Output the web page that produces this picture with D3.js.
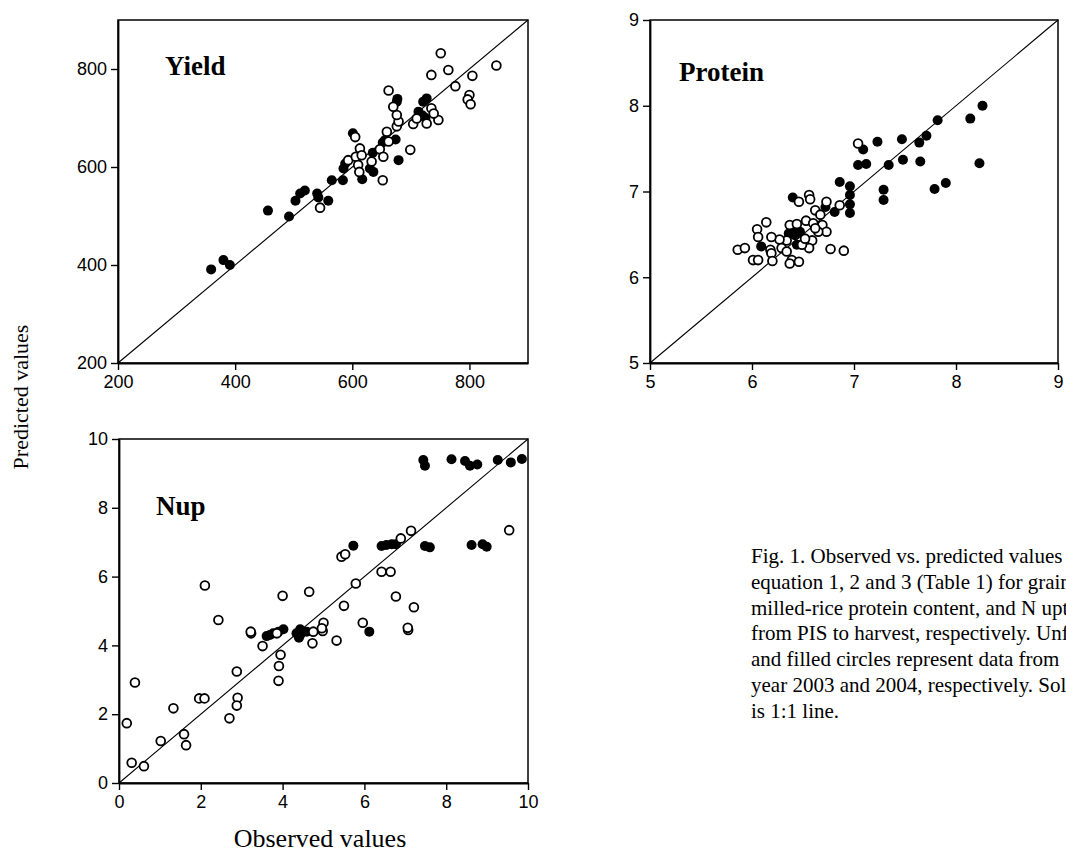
<!DOCTYPE html>
<html>
<head>
<meta charset="utf-8">
<script src="https://cdn.jsdelivr.net/npm/d3@7"></script>
<style>
body { margin: 0; background: #fff; }
svg { display: block; }
</style>
</head>
<body>
<div id="chart"></div>
<script>
// observed, predicted pairs
// open = 2003, filled = 2004
var yieldOpen = [[545,517],[652,573],[593,614],[606,621],[610,604],[613,638],[616,624],[612,590],[633,611],
  [647,636],[653,621],[662,652],[659,672],[605,661],[676,683],[679,693],[676,706],[670,723],[662,756],
  [704,688],[727,689],[747,696],[735,720],[739,709],[710,699],[699,635],[751,832],[764,798],[735,788],
  [846,807],[805,786],[776,765],[800,747],[797,738],[802,728]];
var yieldFilled = [[359,391],[380,410],[391,400],[456,511],[492,499],[503,531],[511,546],[519,552],[540,546],
  [542,538],[559,531],[565,573],[584,573],[617,575],[679,614],[588,607],[585,597],[630,597],[636,590],
  [635,629],[656,655],[652,650],[674,656],[601,669],[676,733],[677,739],[713,713],[720,705],[725,700],
  [727,740],[721,733]];

var proteinOpen = [[7.04,7.56],[6.73,6.88],[6.86,6.84],[6.46,6.88],[6.56,6.96],[6.57,6.91],[6.62,6.78],
  [6.67,6.73],[6.53,6.66],[6.60,6.63],[6.69,6.61],[6.73,6.53],[6.65,6.53],[6.62,6.57],[6.59,6.43],
  [6.56,6.34],[6.49,6.38],[6.77,6.33],[6.90,6.31],[6.37,6.61],[6.34,6.43],[6.27,6.44],[6.29,6.34],
  [6.34,6.30],[6.39,6.20],[6.46,6.18],[6.37,6.16],[6.19,6.47],[6.14,6.64],[6.05,6.56],[6.06,6.47],
  [6.18,6.32],[6.19,6.28],[6.20,6.19],[6.01,6.20],[6.06,6.20],[5.86,6.32],[5.93,6.34],[6.52,6.45],[6.44,6.62]];
var proteinFilled = [[8.26,8.00],[8.14,7.85],[7.82,7.83],[7.71,7.65],[7.64,7.57],[7.47,7.61],[7.23,7.58],
  [7.09,7.49],[7.04,7.31],[7.12,7.32],[7.34,7.31],[7.48,7.37],[7.65,7.35],[8.23,7.33],[7.79,7.03],
  [7.90,7.10],[7.29,7.02],[7.29,6.90],[6.96,7.06],[6.96,6.96],[6.86,7.11],[6.96,6.85],[6.96,6.75],
  [6.81,6.76],[6.72,6.82],[6.40,6.93],[6.39,6.55],[6.44,6.56],[6.47,6.53],[6.42,6.49],[6.36,6.51],
  [6.44,6.38],[6.09,6.36]];

var nupOpen = [[0.19,1.74],[0.31,0.59],[0.61,0.49],[0.39,2.92],[1.02,1.22],[1.33,2.17],[1.59,1.42],
  [1.64,1.10],[1.96,2.46],[2.09,2.46],[2.70,1.88],[2.88,3.24],[2.90,2.48],[2.88,2.25],[3.90,2.97],
  [3.91,3.40],[3.95,3.73],[3.51,3.98],[4.73,4.06],[5.32,4.14],[3.23,4.35],[3.22,4.40],[4.75,4.40],
  [4.98,4.42],[7.07,4.45],[9.54,7.35],[7.14,7.33],[6.89,7.11],[5.44,6.58],[5.53,6.65],[6.42,6.14],
  [6.64,6.14],[5.79,5.80],[6.77,5.42],[5.50,5.15],[7.21,5.11],[5.96,4.66],[7.06,4.51],[5.00,4.66],
  [4.96,4.50],[2.10,5.74],[2.43,4.74],[4.00,5.44],[4.65,5.56],[3.86,4.35]];
var nupFilled = [[3.61,4.27],[3.69,4.30],[3.77,4.35],[3.90,4.40],[4.02,4.47],[4.34,4.35],[4.43,4.30],
  [4.43,4.47],[4.59,4.40],[4.40,4.22],[6.12,4.40],[7.44,9.39],[7.48,9.22],[8.13,9.41],[8.46,9.36],
  [8.58,9.22],[8.76,9.26],[9.26,9.39],[9.58,9.32],[9.85,9.42],[6.42,6.89],[6.54,6.92],[6.67,6.94],
  [6.77,6.94],[7.48,6.89],[7.60,6.85],[8.62,6.92],[8.89,6.94],[8.99,6.87],[5.73,6.90]];

var yieldTicks = [200, 400, 600, 800];
var proteinTicks = [5, 6, 7, 8, 9];
var nupTicks = [0, 2, 4, 6, 8, 10];

// caption runs off the right edge in the source figure
var captionLines = [
  "Fig. 1. Observed vs. predicted values",
  "equation 1, 2 and 3 (Table 1) for grain yield,",
  "milled-rice protein content, and N uptake",
  "from PIS to harvest, respectively. Unfilled",
  "and filled circles represent data from",
  "year 2003 and 2004, respectively. Solid line",
  "is 1:1 line."
];

var W = 1066, H = 854;
var serif = "'Liberation Serif', 'Times New Roman', serif";
var sans = "'Liberation Sans', Arial, sans-serif";

var svg = d3.select('#chart').append('svg').attr('width', W).attr('height', H);

function panel(p) {
  var x = d3.scaleLinear().domain(p.domain).range([p.left, p.left + p.w]);
  var y = d3.scaleLinear().domain(p.domain).range([p.top + p.h, p.top]);
  var g = svg.append('g');

  // frame
  g.append('rect').attr('x', p.left).attr('y', p.top).attr('width', p.w).attr('height', p.h)
    .attr('fill', 'none').attr('stroke', '#000').attr('stroke-width', 1.5);

  var fmt = d3.format('d');
  var xa = g.append('g').attr('transform', 'translate(0,' + (p.top + p.h) + ')')
    .call(d3.axisBottom(x).tickValues(p.ticks).tickFormat(fmt).tickSize(7).tickSizeOuter(0).tickPadding(5));
  var ya = g.append('g').attr('transform', 'translate(' + p.left + ',0)')
    .call(d3.axisLeft(y).tickValues(p.ticks).tickFormat(fmt).tickSize(7).tickSizeOuter(0).tickPadding(4));
  [xa, ya].forEach(function(a) {
    a.select('.domain').attr('stroke-width', 1.8);
    a.selectAll('.tick line').attr('stroke-width', 1.4);
    a.selectAll('text').attr('fill', '#000').style('font-family', sans).style('font-size', '18px');
  });

  // 1:1 line
  g.append('line')
    .attr('x1', x(p.domain[0])).attr('y1', y(p.domain[0]))
    .attr('x2', x(p.domain[1])).attr('y2', y(p.domain[1]))
    .attr('stroke', '#000').attr('stroke-width', 1.1);

  g.selectAll('.filled').data(p.filled).enter().append('circle')
    .attr('class', 'filled')
    .attr('cx', function(d) { return x(d[0]); })
    .attr('cy', function(d) { return y(d[1]); })
    .attr('r', 5).attr('fill', '#000');

  g.selectAll('.open').data(p.open).enter().append('circle')
    .attr('class', 'open')
    .attr('cx', function(d) { return x(d[0]); })
    .attr('cy', function(d) { return y(d[1]); })
    .attr('r', 4.4).attr('fill', '#fff').attr('stroke', '#000').attr('stroke-width', 1.8);

  g.append('text').attr('x', p.titleX).attr('y', p.titleY).text(p.title)
    .style('font-family', serif).style('font-weight', 'bold').style('font-size', '27px');
}

panel({ left: 118, top: 20, w: 410, h: 343, domain: [200, 900], ticks: yieldTicks,
  open: yieldOpen, filled: yieldFilled, title: 'Yield', titleX: 165, titleY: 75 });
panel({ left: 650, top: 20, w: 408, h: 343, domain: [5, 9], ticks: proteinTicks,
  open: proteinOpen, filled: proteinFilled, title: 'Protein', titleX: 679, titleY: 81 });
panel({ left: 119, top: 439, w: 409, h: 344, domain: [0, 10], ticks: nupTicks,
  open: nupOpen, filled: nupFilled, title: 'Nup', titleX: 156, titleY: 515 });

svg.append('text')
  .attr('transform', 'translate(28,397) rotate(-90)')
  .attr('text-anchor', 'middle')
  .style('font-family', serif).style('font-size', '22px')
  .text('Predicted values');

svg.append('text')
  .attr('x', 320).attr('y', 847)
  .attr('text-anchor', 'middle')
  .style('font-family', serif).style('font-size', '26px')
  .text('Observed values');

svg.append('g').selectAll('text').data(captionLines).enter().append('text')
  .attr('x', 751)
  .attr('y', function(d, i) { return 563 + i * 25.8; })
  .style('font-family', serif).style('font-size', '21px')
  .text(function(d) { return d; });
</script>
</body>
</html>
